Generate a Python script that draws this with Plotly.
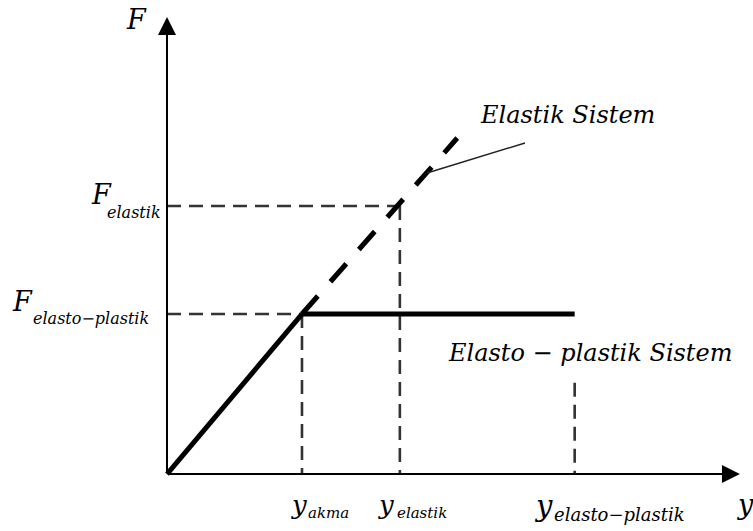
import plotly.graph_objects as go

# Characteristic displacements (horizontal axis, y)
y_akma = 1.0
y_elastik = 1.725
y_elasto_plastik = 3.02

# Characteristic forces (vertical axis, F)
F_elasto_plastik = 1.0
F_elastik = 1.675

# Elastic system: straight line through the origin
elastic_y = [0.0, 1.0, 2.15]
elastic_F = [0.0, 1.0, 2.10]

# Elasto-plastic system: plateau after yielding
plastic_y = [1.0, 3.02]
plastic_F = [1.0, 1.0]

# Axis extents and pointer for the elastic label
y_axis_end = 4.244
F_axis_end = 2.856
pointer_y = [1.926, 2.652]
pointer_F = [1.881, 2.069]
ep_guide_top = 0.57

INK = "#000000"
GUIDE = "#333333"
FONT = "DejaVu Serif"

fig = go.Figure()


def seg(xs, ys, width, color=INK, dash=None):
    fig.add_trace(go.Scatter(
        x=xs, y=ys, mode="lines",
        line=dict(color=color, width=width, dash=dash),
        hoverinfo="skip", showlegend=False,
    ))


# dashed guide lines
guide_dash = "14px,8px"
seg([0, y_elastik], [F_elastik, F_elastik], 2.6, GUIDE, guide_dash)
seg([y_elastik, y_elastik], [F_elastik, 0], 2.6, GUIDE, guide_dash)
seg([0, y_akma], [F_elasto_plastik, F_elasto_plastik], 2.6, GUIDE, guide_dash)
seg([y_akma, y_akma], [F_elasto_plastik, 0], 2.6, GUIDE, guide_dash)
seg([y_elasto_plastik, y_elasto_plastik], [ep_guide_top, 0], 2.6, GUIDE, guide_dash)

# elastic branch: solid up to yield, dashed beyond
seg(elastic_y[:2], elastic_F[:2], 5)
seg(elastic_y[1:], elastic_F[1:], 5, INK, "24px,19px")

# plastic plateau
seg(plastic_y, plastic_F, 5)

# label pointer
seg(pointer_y, pointer_F, 1.5, "#222222")

annotations = []

# axes with arrowheads
for tip in [(y_axis_end, 0), (0, F_axis_end)]:
    annotations.append(dict(
        x=tip[0], y=tip[1], ax=0, ay=0,
        xref="x", yref="y", axref="x", ayref="y",
        showarrow=True, arrowhead=2, arrowsize=1.8, arrowwidth=2,
        arrowcolor=INK, standoff=0, startstandoff=0, text="",
    ))


def label(x, y, text, size, xs=0, ys=0, xanchor="center"):
    annotations.append(dict(
        x=x, y=y, xref="x", yref="y", text=text, showarrow=False,
        xshift=xs, yshift=ys, xanchor=xanchor, yanchor="middle",
        font=dict(family=FONT, size=size, color=INK, style="italic"),
    ))


# axis titles
label(0, F_axis_end, "F", 27, xs=-30, ys=-2)
label(y_axis_end, 0, "y", 27, xs=6, ys=-30)

# force levels
label(0, F_elastik, "F", 27, xs=-65, ys=12)
label(0, F_elastik, "elastik", 16, xs=-33, ys=-6)
label(0, F_elasto_plastik, "F", 27, xs=-144, ys=13)
label(0, F_elasto_plastik, "elasto\u2212plastik", 16, xs=-76, ys=-4)

# displacement levels
label(y_akma, 0, "y", 26, xs=-3, ys=-31)
label(y_akma, 0, "akma", 15, xs=27, ys=-39)
label(y_elastik, 0, "y", 26, xs=-14, ys=-31)
label(y_elastik, 0, "elastik", 15, xs=22, ys=-39)
label(y_elasto_plastik, 0, "y", 29, xs=-31, ys=-32)
label(y_elasto_plastik, 0, "elasto\u2212plastik", 18, xs=45, ys=-40)

# system names
label(2.97, 2.244, "Elastik Sistem", 24)
label(3.133, 0.756, "Elasto \u2212 plastik Sistem", 24)

fig.update_layout(
    width=753, height=531,
    margin=dict(l=0, r=0, t=0, b=0),
    paper_bgcolor="white", plot_bgcolor="white",
    xaxis=dict(visible=False, range=[-1.237, 4.341], fixedrange=True),
    yaxis=dict(visible=False, range=[-0.356, 2.9625], fixedrange=True),
    annotations=annotations,
    showlegend=False,
)

fig.write_html("out.html")
